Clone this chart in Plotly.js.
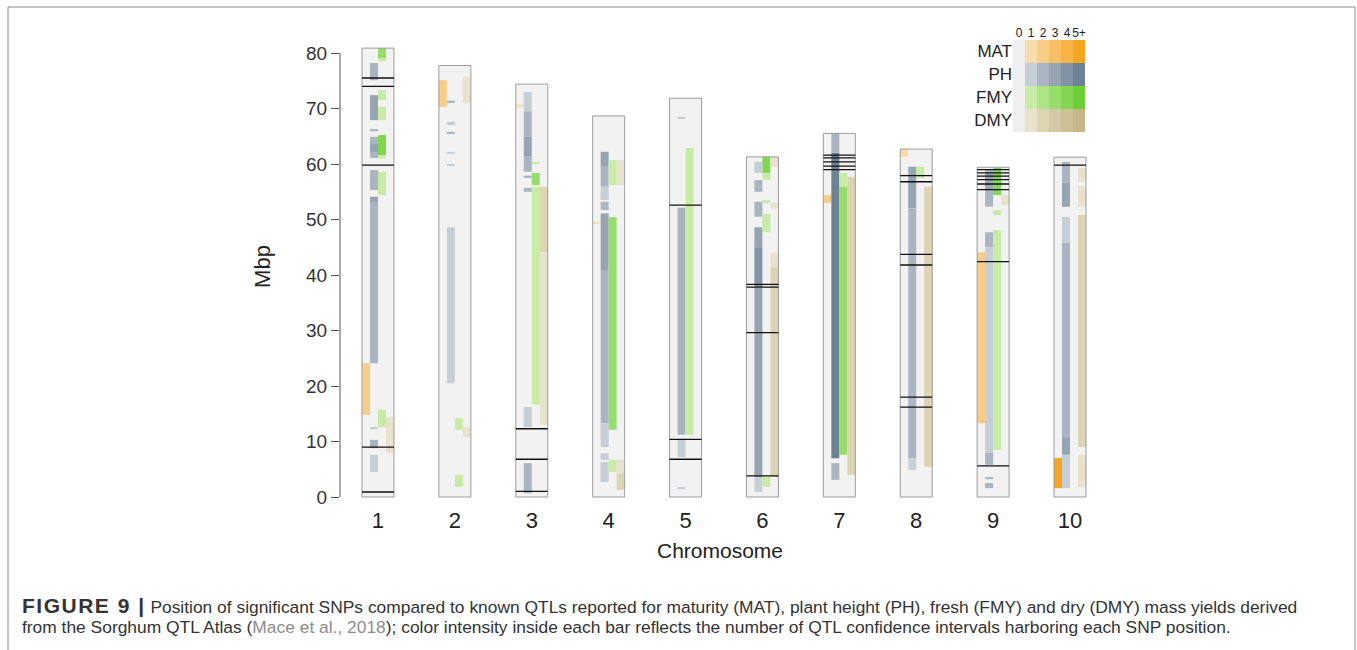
<!DOCTYPE html>
<html><head><meta charset="utf-8">
<script src="https://cdn.plot.ly/plotly-3.0.1.min.js"></script>
<style>html,body{margin:0;padding:0;background:#fff}#chart{width:1357px;height:650px}</style>
</head><body><div id="chart"></div>
<script>
// ---------- data ----------
const chromosomes = [1,2,3,4,5,6,7,8,9,10];
const chrLabels = ["1","2","3","4","5","6","7","8","9","10"];
const chrLengths = [80.88, 77.74, 74.39, 68.66, 71.85, 61.28, 65.51, 62.69, 59.42, 61.23];
const yTicks = [0,10,20,30,40,50,60,70,80];
const traits = ["MAT","PH","FMY","DMY"];
const levelLabels = ["0","1","2","3","4","5+"];

// segments: [chromosome, start Mbp, end Mbp, number of QTL intervals]
const MAT_segments = [
  [1,14.8,24.1,2],[2,70.3,75.1,2],[3,70.3,70.7,1],[4,49.2,49.6,1],
  [7,53.0,54.4,2],[8,61.3,62.7,1],[9,13.3,44.1,2],[10,1.6,7.0,5]
];
const PH_segments = [
  [1,75.1,78.2,2],[1,67.9,72.4,3],[1,65.9,66.3,2],[1,61.1,64.9,2],[1,62.2,63.6,3],
  [1,55.3,58.9,2],[1,53.0,54.1,3],[1,24.1,53.0,2],[1,12.2,12.6,1],[1,8.8,10.3,2],[1,4.5,7.6,1],
  [2,71.0,71.4,2],[2,67.0,67.6,1],[2,65.4,65.8,2],[2,61.8,62.2,1],[2,59.6,60.0,1],[2,20.5,48.6,1],
  [3,69.5,73.0,1],[3,64.9,69.5,2],[3,61.3,64.9,3],[3,58.6,61.3,2],[3,57.5,57.9,2],[3,55.0,55.7,2],
  [3,12.6,16.2,1],[3,0.7,6.1,2],
  [4,59.5,62.2,3],[4,55.9,59.5,2],[4,53.5,55.9,1],[4,51.7,53.2,2],[4,40.9,51.1,3],[4,13.3,40.9,2],
  [4,9.0,13.3,1],[4,6.7,7.9,1],[4,2.7,6.3,1],
  [5,68.1,68.5,1],[5,11.2,52.1,2],[5,7.2,10.3,1],[5,1.4,1.8,1],
  [6,58.4,60.4,1],[6,55.0,57.1,2],[6,50.5,53.2,2],[6,45.0,48.6,3],[6,37.8,45.0,4],[6,3.6,37.8,3],[6,0.9,3.6,1],
  [7,62.0,65.6,2],[7,7.0,62.0,5],[7,3.1,6.1,2],
  [8,52.0,59.5,3],[8,7.0,52.0,2],[8,4.9,7.0,1],
  [9,52.3,58.9,2],[9,55.5,58.5,3],[9,45.0,47.7,2],[9,8.0,45.0,1],[9,5.8,8.0,2],[9,3.2,3.6,2],[9,1.6,2.5,2],
  [10,56.6,60.4,2],[10,52.3,56.6,3],[10,45.8,50.5,1],[10,10.8,45.8,2],[10,7.6,10.8,3],[10,1.6,7.6,1]
];
const FMY_segments = [
  [1,79.1,80.9,3],[1,78.5,79.1,1],[1,71.5,73.3,1],[1,67.9,70.3,1],[1,61.6,65.2,4],[1,61.0,61.6,1],
  [1,54.4,58.6,1],[1,12.6,15.7,1],
  [2,12.1,14.2,1],[2,1.8,4.0,1],
  [3,60.0,60.4,1],[3,56.2,58.4,3],[3,16.6,55.9,1],
  [4,56.2,60.7,1],[4,12.1,50.4,3],[4,4.5,6.7,1],
  [5,11.2,62.9,1],
  [6,58.4,61.3,4],[6,57.2,58.4,1],[6,53.0,53.5,1],[6,47.7,51.0,1],[6,1.8,3.6,1],
  [7,55.9,58.4,1],[7,7.6,55.9,3],
  [8,57.5,59.5,1],
  [9,54.4,59.3,4],[9,50.8,51.7,1],[9,8.5,48.1,1]
];
const DMY_segments = [
  [1,7.9,14.4,1],
  [2,71.0,75.7,1],[2,10.8,12.6,1],
  [3,44.1,55.9,2],[3,13.0,44.1,1],
  [4,56.2,60.7,1],[4,4.3,6.7,1],[4,1.3,4.3,2],
  [6,59.5,61.3,1],[6,52.0,53.0,1],[6,41.4,44.0,1],[6,3.6,41.4,2],
  [7,4.0,57.7,2],
  [8,5.4,55.9,2],
  [9,52.6,54.4,1],
  [10,56.8,59.3,1],[10,52.3,56.0,1],[10,9.0,50.8,2],[10,1.8,7.6,1]
];
// significant SNPs: [chromosome, position Mbp]
const SNPs = [
  [1,75.5],[1,74.0],[1,59.8],[1,9.0],[1,0.9],
  [3,12.3],[3,6.8],[3,1.0],
  [5,52.6],[5,10.4],[5,6.8],
  [6,38.3],[6,37.8],[6,29.6],[6,3.8],
  [7,61.6],[7,61.1],[7,60.4],[7,59.6],[7,59.0],
  [8,57.9],[8,56.8],[8,43.7],[8,41.8],[8,18.0],[8,16.2],
  [9,59.0],[9,58.4],[9,57.8],[9,57.2],[9,56.4],[9,55.4],[9,42.4],[9,5.6],
  [10,59.8]
];

// ---------- styles ----------
const palettes = {
  MAT: ["#efefef","#f9dcae","#f8cd87","#f7bf62","#f6b245","#f5a623"],
  PH:  ["#efefef","#c6ced6","#aab5c1","#97a4b1","#8293a3","#6e8296"],
  FMY: ["#efefef","#c8eba6","#aee488","#97dd6b","#82d650","#6ccf36"],
  DMY: ["#efefef","#e8e2cc","#ddd4b4","#d4c9a4","#cdbf96","#c6b688"]
};
const segsByTrait = {MAT: MAT_segments, PH: PH_segments, FMY: FMY_segments, DMY: DMY_segments};
const boxW = 0.416, colW = boxW / 4;

const traces = [];
traces.push({type:'bar', x:chromosomes, y:chrLengths, base:0, width:boxW,
  marker:{color:'#f2f2f2', line:{width:0}}, hoverinfo:'skip'});
traits.forEach((t,i)=>{
  const segs = segsByTrait[t];
  traces.push({type:'bar', x:segs.map(s=>s[0]+(i-1.5)*colW), base:segs.map(s=>s[1]),
    y:segs.map(s=>s[2]-s[1]), width:colW,
    marker:{color:segs.map(s=>palettes[t][s[3]]), line:{width:0}}, hoverinfo:'skip'});
});
traces.push({type:'bar', x:chromosomes, y:chrLengths, base:0, width:boxW,
  marker:{color:'rgba(0,0,0,0)', line:{color:'#9c9c9c', width:1}}, hoverinfo:'skip'});
const sx=[], sy=[];
SNPs.forEach(s=>{ sx.push(s[0]-boxW/2, s[0]+boxW/2, null); sy.push(s[1], s[1], null); });
traces.push({type:'scatter', mode:'lines', x:sx, y:sy, line:{color:'#111', width:1.3}, hoverinfo:'skip'});

// legend as heatmap
const flatColors = [];
traits.forEach(t=>palettes[t].forEach(c=>flatColors.push(c)));
const nC = flatColors.length;
const cscale = flatColors.map((c,k)=>[k/(nC-1), c]);
traces.push({type:'heatmap', xaxis:'x2', yaxis:'y2', x:levelLabels, y:traits,
  z:traits.map((t,i)=>levelLabels.map((l,j)=>i*levelLabels.length+j)),
  zmin:0, zmax:nC-1, colorscale:cscale, showscale:false, hoverinfo:'skip'});

const L=340, R=257, T=30, B=147, W=1357, H=650;
const pw=W-L-R, ph=H-T-B;
const px=x=>(x-L)/pw, py=y=>(H-B-y)/ph;
const capFont = {family:'Liberation Sans, Arial, sans-serif', size:17.4, color:'#333'};

const layout = {
  width:W, height:H, margin:{l:L, r:R, t:T, b:B}, showlegend:false,
  barmode:'overlay', paper_bgcolor:'#fff', plot_bgcolor:'#fff',
  font:{family:'Liberation Sans, Arial, sans-serif', color:'#222'},
  xaxis:{range:[0.506,10.39], tickvals:chromosomes, ticktext:chrLabels, ticks:'',
    showgrid:false, zeroline:false, showline:false, tickfont:{size:22, color:'#222'},
    ticklabelstandoff:2,
    title:{text:'Chromosome', font:{size:21, color:'#222'}, standoff:11}, fixedrange:true},
  yaxis:{range:[-(H-B-497)/5.55, (497-T)/5.55], tickvals:yTicks, ticks:'outside', ticklen:8,
    tickcolor:'#555', showgrid:false, zeroline:false, showline:false,
    tickfont:{size:19, color:'#333'}, title:{text:'Mbp', font:{size:22, color:'#222'}, standoff:29}, fixedrange:true},
  xaxis2:{domain:[px(1013), px(1085)], anchor:'y2', side:'top', type:'category', ticks:'', showgrid:false,
    tickmode:'array', tickvals:levelLabels, ticktext:levelLabels, tickangle:0, ticklabeloverflow:'allow',
    zeroline:false, showline:false, tickfont:{size:12, color:'#222'}, fixedrange:true},
  yaxis2:{domain:[py(132), py(40)], anchor:'x2', type:'category', autorange:'reversed', ticks:'', showgrid:false,
    tickmode:'array', tickvals:traits, ticktext:traits,
    zeroline:false, showline:false, tickfont:{size:17, color:'#222'}, fixedrange:true},
  shapes:[
    {type:'line', xref:'paper', yref:'y', x0:0, x1:0, y0:0, y1:80, line:{color:'#555', width:1}},
    {type:'rect', xref:'paper', yref:'paper', x0:px(8), x1:px(1355), y0:py(7), y1:py(670),
      line:{color:'#8a8a8a', width:1}, fillcolor:'rgba(0,0,0,0)'}
  ],
  annotations:[
    {xref:'paper', yref:'paper', x:px(20), y:py(605), xanchor:'left', yanchor:'middle', showarrow:false,
     align:'left', font:capFont,
     text:'<span style="font-size:21px;letter-spacing:1.5px;font-weight:bold">FIGURE 9 |</span> Position of significant SNPs compared to known QTLs reported for maturity (MAT), plant height (PH), fresh (FMY) and dry (DMY) mass yields derived'},
    {xref:'paper', yref:'paper', x:px(20), y:py(627), xanchor:'left', yanchor:'middle', showarrow:false,
     align:'left', font:capFont,
     text:'from the Sorghum QTL Atlas (<span style="color:#8c8c8c">Mace et al., 2018</span>); color intensity inside each bar reflects the number of QTL confidence intervals harboring each SNP position.'}
  ]
};
Plotly.newPlot('chart', traces, layout, {displayModeBar:false, staticPlot:true});
</script></body></html>
